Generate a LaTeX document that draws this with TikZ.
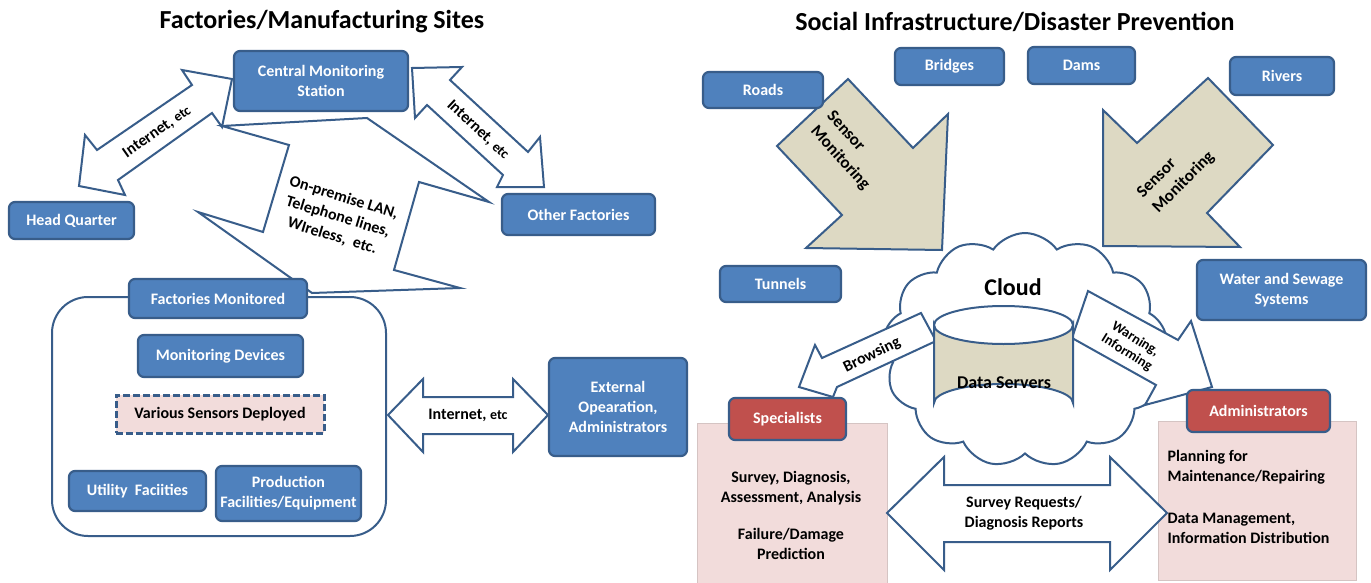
\documentclass[tikz,border=0pt]{standalone}
\usepackage{fontspec}
\setmainfont{Carlito}
\usetikzlibrary{shapes.symbols}

\definecolor{boxblue}{HTML}{4F81BD}
\definecolor{edgeblue}{HTML}{385D8A}
\definecolor{boxred}{HTML}{C0504D}
\definecolor{rosefill}{HTML}{F2DCDB}
\definecolor{roseedge}{HTML}{D5C4C3}
\definecolor{khaki}{HTML}{DDD9C3}

\begin{document}
\begin{tikzpicture}[x=1pt,y=-1pt,
   bluebox/.style={draw=edgeblue,fill=boxblue,line width=2.2pt,rounded corners=6pt,
      text=white,font=\fontsize{16}{20}\selectfont\bfseries,align=center,inner sep=2pt},
   redbox/.style={bluebox,fill=boxred},
   blockarrow/.style={draw=edgeblue,fill=white,line width=2pt},
   sensorarrow/.style={blockarrow,fill=khaki},
   plaintext/.style={font=\fontsize{16}{20}\selectfont\bfseries,align=center},
   title/.style={font=\fontsize{26}{30}\selectfont\bfseries}]
\fill[white] (0,0) rectangle (1371,583);
\clip (0,0) rectangle (1371,583);

\node[title] (lefttitle) at (322,22) {Factories/Manufacturing Sites};
\node[title] (righttitle) at (1015,22) {Social Infrastructure/Disaster Prevention};

% Factories / manufacturing sites
\draw[blockarrow] (232,79) -- (182,70) -- (192,85) -- (97,150) -- (85,135) -- (79,186)
   -- (125,195) -- (118,180) -- (212,113) -- (222,127) -- cycle;
\node[plaintext,rotate=35] (hqlink) at (157,132) {Internet, {\fontsize{14}{16}\selectfont etc}};
\draw[blockarrow] (412,68) -- (462,67) -- (450,80) -- (528,152) -- (540,137) -- (544,187)
   -- (497,187) -- (503,175) -- (427,105) -- (415,118) -- cycle;
\node[plaintext,rotate=-43] (oflink) at (478,130) {Internet, {\fontsize{14}{16}\selectfont etc}};
\draw[blockarrow] (222,126) -- (367,118) -- (489,202) -- (419,182) -- (394,270) -- (460,288)
   -- (312,293) -- (198,212) -- (263,232) -- (289,145) -- cycle;
\node[plaintext,rotate=-17] (lan) at (338,217) {On-premise LAN,\\Telephone lines,\\WIreless,~ etc.};

\node[bluebox,minimum width=174pt,minimum height=60pt] (central) at (321,81) {Central Monitoring\\Station};
\node[bluebox,minimum width=125pt,minimum height=37pt] (hq) at (71.5,220.5) {Head Quarter};
\node[bluebox,minimum width=153pt,minimum height=41pt] (other) at (578.5,214.5) {Other Factories};

\draw[edgeblue,line width=2pt,rounded corners=36pt] (52,297) rectangle (386,536);
\node[bluebox,minimum width=178pt,minimum height=39pt] (monitored) at (218,298.5) {Factories Monitored};
\node[bluebox,minimum width=165pt,minimum height=42pt] (devices) at (220.5,356) {Monitoring Devices};
\node[plaintext,draw=edgeblue,fill=rosefill,line width=3pt,dash pattern=on 7pt off 3pt,
   minimum width=208pt,minimum height=38pt] (sensors) at (220,414) {Various Sensors Deployed};
\node[bluebox,minimum width=137pt,minimum height=40pt] (utility) at (137.5,491) {Utility~ Faciities};
\node[bluebox,minimum width=145pt,minimum height=55pt] (production) at (288.5,493.5) {Production\\Facilities/Equipment};

\draw[blockarrow] (388,415) -- (423,379) -- (423,397) -- (513,397) -- (513,379) -- (548,415)
   -- (513,452) -- (513,434) -- (423,434) -- (423,452) -- cycle;
\node[plaintext] (extlink) at (468,415) {Internet, {\fontsize{14}{16}\selectfont etc}};
\node[bluebox,minimum width=138pt,minimum height=98pt] (external) at (618,407) {External\\Opearation,\\Administrators};

% Social infrastructure / disaster prevention
\node[cloud,draw=edgeblue,fill=white,line width=2pt,cloud puffs=13,cloud puff arc=110,
   minimum width=284pt,minimum height=234pt] (cloud) at (1025,350) {};
\node[font=\fontsize{24}{28}\selectfont\bfseries] (cloudlabel) at (1013,287) {Cloud};

\draw[sensorarrow] (848,79) -- (913,148) -- (948,114) -- (942,250) -- (806,248) -- (842,215)
   -- (777,146) -- cycle;
\node[plaintext,font=\fontsize{17}{22}\selectfont\bfseries,align=left,rotate=-48] (sensorleft) at (848,151) {Sensor\\Monitoring};
\draw[sensorarrow] (1208,78) -- (1273,145) -- (1207,213) -- (1240,247) -- (1103,246) -- (1103,110)
   -- (1137,143) -- cycle;
\node[plaintext,font=\fontsize{17}{22}\selectfont\bfseries,align=left,rotate=45] (sensorright) at (1176,175) {Sensor\\Monitoring};

\node[bluebox,minimum width=120pt,minimum height=36pt] (roads) at (763,90) {Roads};
\node[bluebox,minimum width=109pt,minimum height=37pt] (bridges) at (949.5,66.5) {Bridges};
\node[bluebox,minimum width=107pt,minimum height=37pt] (dams) at (1081.5,65.5) {Dams};
\node[bluebox,minimum width=104pt,minimum height=38pt] (rivers) at (1282,76) {Rivers};
\node[bluebox,minimum width=121pt,minimum height=36pt] (tunnels) at (780.5,284) {Tunnels};
\node[bluebox,minimum width=169pt,minimum height=60pt] (water) at (1281.5,290) {Water and Sewage\\Systems};

\draw[blockarrow] (799,387) -- (815,345) -- (822,358) -- (921,313) -- (936,341) -- (837,387)
   -- (833,397) -- cycle;
\node[plaintext,rotate=26] (browsing) at (872,355) {Browsing};
\draw[blockarrow] (1088,291) -- (1178,340) -- (1191,321) -- (1212,387) -- (1145,405) -- (1156,385)
   -- (1072,338) -- cycle;
\node[plaintext,font=\fontsize{14}{16}\selectfont\bfseries,rotate=-32] (warning) at (1131,346) {Warning,\\Informing};

\draw[draw=edgeblue,fill=khaki,line width=2pt] (934,325) -- (934,403)
   arc[start angle=180,end angle=360,x radius=69.5,y radius=19] -- (1073,325)
   arc[start angle=0,end angle=180,x radius=69.5,y radius=19] -- cycle;
\draw[draw=edgeblue,line width=2pt] (934,325) arc[start angle=180,end angle=360,x radius=69.5,y radius=19];
\node[plaintext,font=\fontsize{18}{22}\selectfont\bfseries] (servers) at (1004,383) {Data Servers};

\draw[draw=roseedge,fill=rosefill,line width=1pt] (697,423) rectangle (887,590);
\draw[draw=roseedge,fill=rosefill,line width=1pt] (1158,421) rectangle (1356,580);
\node[redbox,minimum width=117pt,minimum height=42pt] (specialists) at (787.5,419) {Specialists};
\node[redbox,minimum width=143pt,minimum height=42pt] (admins) at (1258.5,411) {Administrators};

\node[plaintext] (tasksa) at (791,488) {Survey, Diagnosis,\\Assessment, Analysis};
\node[plaintext] (tasksb) at (791,544) {Failure/Damage\\Prediction};
\node[plaintext,align=left,anchor=west] (dutiesa) at (1164,467) {Planning for\\Maintenance/Repairing};
\node[plaintext,align=left,anchor=west] (dutiesb) at (1164,528) {Data Management,\\Information Distribution};

\draw[blockarrow] (887,513) -- (944,457) -- (944,485) -- (1110,485) -- (1110,457) -- (1167,513)
   -- (1110,570) -- (1110,542) -- (944,542) -- (944,570) -- cycle;
\node[plaintext] (reports) at (1024,513) {Survey Requests/\\Diagnosis Reports};
\end{tikzpicture}
\end{document}
